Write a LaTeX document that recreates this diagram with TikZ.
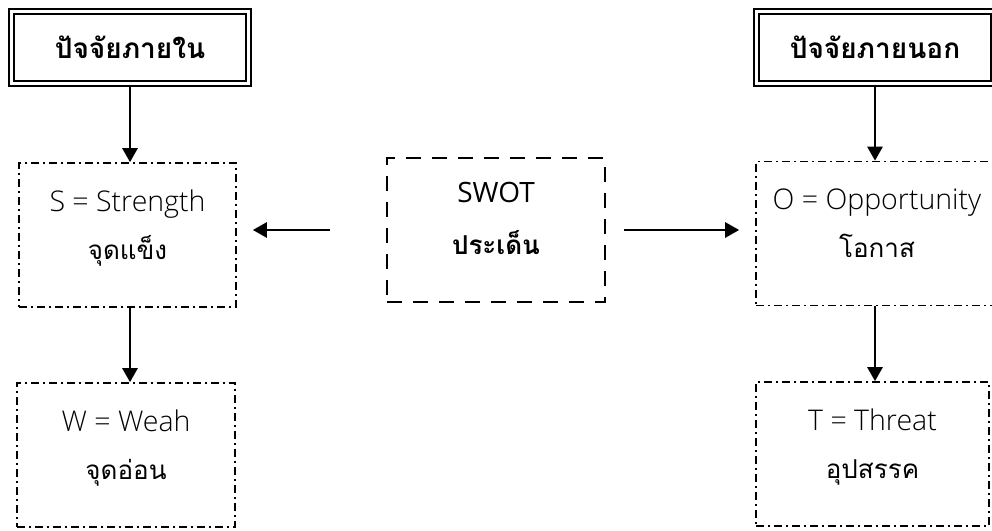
\documentclass[tikz,border=0pt]{standalone}
\usepackage{fontspec}
\setmainfont{Open Sans}
\IfFontExistsTF{Open Sans Light}
  {\newfontfamily\lightfont{Open Sans Light}}
  {\newfontfamily\lightfont{Open Sans}}
\newfontfamily\thaifont[Script=Thai]{Loma}
\newcommand\thaitext{\thaifont\fontsize{26}{48}\selectfont}
\usetikzlibrary{arrows.meta,positioning}

\begin{document}
\begin{tikzpicture}
	[x=1pt, y=-1pt,
	header/.style	={rectangle, draw, double=white, double distance=2.2pt, line width=2.8pt,
		minimum width=237pt, minimum height=72pt, inner sep=0pt,
		font=\thaifont\bfseries\fontsize{28}{34}\selectfont},
	factor/.style	={rectangle, draw, line width=1.6pt, dash pattern=on 8pt off 4pt on 2pt off 4pt,
		minimum height=144pt, inner sep=0pt, align=center, text height=70pt, text depth=22pt,
		font=\lightfont\fontsize{28.5}{48}\selectfont},
	topic/.style	={rectangle, draw, line width=2.8pt, dash pattern=on 15pt off 11pt,
		minimum width=218pt, minimum height=144pt, inner sep=0pt, align=center,
		text height=74pt, text depth=26pt,
		font=\fontsize{28}{52}\selectfont},
	link/.style		={line width=2.6pt, -{Triangle[length=14pt,width=15pt]}}]
	\useasboundingbox (0,0) rectangle (992,530);
	\clip (0,0) rectangle (992,530);
	% internal factors
	\node[header]							(inner)	at (130,47.5)	{ปัจจัยภายใน};
	\node[factor, minimum width=217pt]		(S)		at (127.5,235)	{S = Strength\\{\thaitext จุดแข็ง}};
	\node[factor, minimum width=218pt, below of=S, node distance=220pt, xshift=-1.5pt]
											(W)						{W = Weah\\{\thaitext จุดอ่อน}};
	% topic
	\node[topic]							(SWOT)	at (496,230)	{SWOT\\{\thaitext\bfseries ประเด็น}};
	% external factors
	\node[header]							(outer)	at (875,47.5)	{ปัจจัยภายนอก};
	\node[factor, minimum width=242pt]		(O)		at (877,233.5)	{O = Opportunity\\{\thaitext โอกาส}};
	\node[factor, minimum width=233pt, below of=O, node distance=220.5pt, xshift=-4.5pt]
											(T)						{T = Threat\\{\thaitext อุปสรรค}};
	% arrows
	\draw[link] (inner.south) -- (inner.south |- S.north);
	\draw[link] (S.south -| inner) -- (W.north -| inner);
	\draw[link] (outer.south) -- (outer.south |- O.north);
	\draw[link] (O.south -| outer) -- (T.north -| outer);
	\draw[link, shorten <=56pt, shorten >=16pt] (SWOT.west) -- (SWOT.west -| S.east);
	\draw[link, shorten <=18pt, shorten >=16pt] (SWOT.east) -- (SWOT.east -| O.west);
\end{tikzpicture}
\end{document}
